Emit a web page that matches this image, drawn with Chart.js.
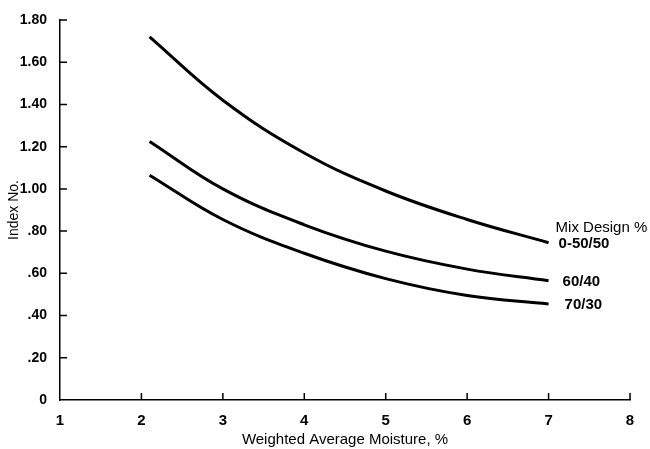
<!DOCTYPE html>
<html>
<head>
<meta charset="utf-8">
<script src="https://cdn.jsdelivr.net/npm/chart.js@4/dist/chart.umd.min.js"></script>
<style>
  html, body { margin: 0; padding: 0; background: #fff; }
  #wrap { width: 650px; height: 449px; }
</style>
</head>
<body>
<div id="wrap"><canvas id="chartIndex"></canvas></div>
<script>
// moisture values, % (x)
var moisture = [2.1, 3, 4, 5, 6, 7];
// index no. per mix design
var mix5050 = [1.72, 1.42, 1.17, 0.99, 0.855, 0.745];
var mix6040 = [1.225, 1.0, 0.83, 0.705, 0.62, 0.565];
var mix7030 = [1.065, 0.855, 0.695, 0.575, 0.495, 0.455];
var seriesNames = ['0-50/50', '60/40', '70/30'];
var legendTitle = 'Mix Design %';

var fontFam = "'Liberation Sans Narrow', 'Liberation Sans', Arial, sans-serif";

function toPts(vals) {
	return vals.map(function(v, i){ return {x: moisture[i], y: v}; });
}

function yLabel(v) {
	if (v === 0) return '0';
	var s = v.toFixed(2);
	return v < 1 ? s.slice(1) : s;
}

// short tick marks drawn inward from both axes, plus the series names
var tickAndLabels = {
	id: 'tickAndLabels',
	afterDraw: function(chart) {
		var ctx = chart.ctx;
		var xs = chart.scales.x, ys = chart.scales.y;
		var area = chart.chartArea;
		ctx.save();
		ctx.strokeStyle = '#000';
		ctx.lineWidth = 1.5;
		ctx.beginPath();
		xs.ticks.forEach(function(t, i){
			if (i === 0) return;
			var px = xs.getPixelForTick(i);
			ctx.moveTo(px, area.bottom);
			ctx.lineTo(px, area.bottom - 7);
		});
		ys.ticks.forEach(function(t, i){
			if (i === 0) return;
			var py = ys.getPixelForTick(i);
			ctx.moveTo(area.left, py);
			ctx.lineTo(area.left + 7, py);
		});
		ctx.stroke();

		var last = moisture.length - 1;
		var endX = xs.getPixelForValue(moisture[last]);
		ctx.fillStyle = '#000';
		ctx.textBaseline = 'middle';
		ctx.textAlign = 'left';
		ctx.font = "15px " + fontFam;
		ctx.fillText(legendTitle, endX + 7, ys.getPixelForValue(mix5050[last]) - 15);
		ctx.font = "bold 15px " + fontFam;
		var ends = [mix5050[last], mix6040[last], mix7030[last]];
		var shift = [10, 14, 16];
		ends.forEach(function(v, i){
			ctx.fillText(seriesNames[i], endX + shift[i], ys.getPixelForValue(v) + 1);
		});
		ctx.restore();
	}
};

function makeSet(name, vals) {
	return {
		label: name,
		data: toPts(vals),
		borderColor: '#000',
		borderWidth: 3,
		pointRadius: 0,
		fill: false,
		tension: 0.4
	};
}

var config = {
	type: 'line',
	data: {
		datasets: [
			makeSet(seriesNames[0], mix5050),
			makeSet(seriesNames[1], mix6040),
			makeSet(seriesNames[2], mix7030)
		]
	},
	options: {
		responsive: true,
		maintainAspectRatio: false,
		animation: false,
		layout: { padding: { top: 20, right: 20, left: 0, bottom: 0 } },
		plugins: {
			legend: { display: false },
			tooltip: { enabled: false }
		},
		scales: {
			x: {
				type: 'linear',
				min: 1,
				max: 8,
				ticks: {
					stepSize: 1,
					color: '#000',
					padding: 4,
					font: { family: fontFam, size: 15, weight: 'bold' }
				},
				grid: { display: false },
				border: { color: '#000', width: 1.5 },
				title: {
					display: true,
					text: 'Weighted Average Moisture, %',
					color: '#000',
					padding: { top: 2, bottom: 0 },
					font: { family: fontFam, size: 15 }
				},
				afterFit: function(scale) { scale.height = 49; }
			},
			y: {
				min: 0,
				max: 1.8,
				ticks: {
					stepSize: 0.2,
					color: '#000',
					padding: 5,
					callback: function(v) { return yLabel(v); },
					font: { family: fontFam, size: 14, weight: 'bold' }
				},
				grid: { display: false },
				border: { color: '#000', width: 1.5 },
				title: {
					display: true,
					text: 'Index No.',
					color: '#000',
					padding: { top: 6, bottom: 0 },
					font: { family: fontFam, size: 14 }
				},
				afterFit: function(scale) { scale.width = 60; }
			}
		}
	},
	plugins: [tickAndLabels]
};

var ctxIndex = document.getElementById('chartIndex').getContext('2d');
window.myLine = new Chart(ctxIndex, config);
</script>
</body>
</html>
